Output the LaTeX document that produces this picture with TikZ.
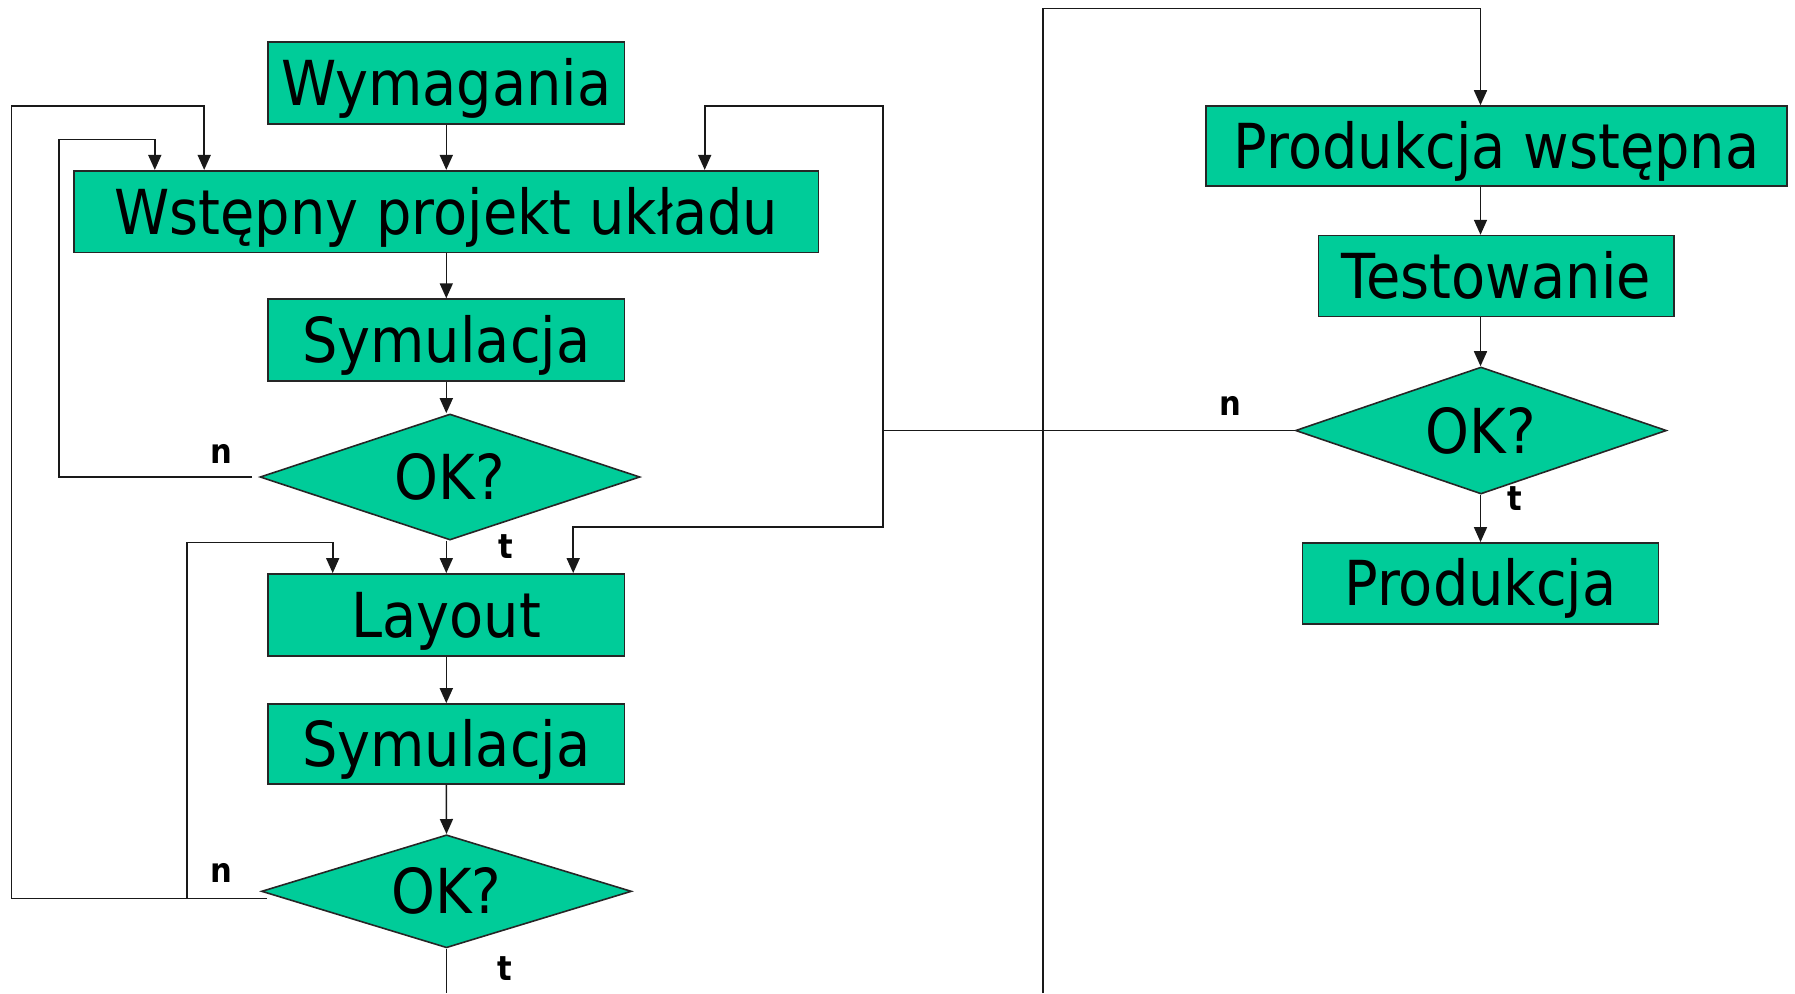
\documentclass[tikz,border=0pt]{standalone}
\usepackage{fontspec}
\setmainfont{DejaVu Sans}[FakeStretch=0.9]
\usetikzlibrary{shapes.geometric,arrows.meta,calc}
\definecolor{boxgreen}{RGB}{0,204,153}
\begin{document}
\begin{tikzpicture}[x=0.5pt,y=-0.5pt,
  wire/.style={draw=black!90, line width=0.8pt},
  stepbox/.style={rectangle, draw=black!85, fill=boxgreen, line width=0.8pt, inner sep=0pt,
    font=\fontsize{31}{37}\selectfont, text height=22.6pt, text depth=0pt},
  decision/.style={diamond, shape aspect=3, draw=black!85, fill=boxgreen, line width=0.8pt, inner sep=0pt,
    font=\fontsize{31}{37}\selectfont, text height=22.6pt, text depth=0pt},
  lbl/.style={inner sep=0pt, font=\fontsize{17}{20}\selectfont\bfseries},
  arr/.style={wire, -{Triangle[width=6.5pt,length=7.5pt]}}
]
\useasboundingbox (0,0) rectangle (1795,993);

% left column
\node[stepbox, minimum width=178.3pt, minimum height=40.9pt] (wym) at (446.3,83) {Wymagania};
\node[stepbox, minimum width=372.3pt, minimum height=40.9pt] (wst) at (446.3,211.6) {Wstępny projekt układu};
\node[stepbox, minimum width=178.3pt, minimum height=40.9pt] (s1) at (446.3,340) {Symulacja};
\node[decision, minimum width=190pt, minimum height=63pt] (d1) at (450,477) {OK?};
\node[stepbox, minimum width=178.3pt, minimum height=40.9pt] (lay) at (446.3,614.8) {Layout};
\node[stepbox, minimum width=178.3pt, minimum height=40pt] (s2) at (446.3,744) {Symulacja};
\node[decision, minimum width=185pt, minimum height=56.5pt] (d2) at (446.5,891.3) {OK?};

% right column
\node[stepbox, minimum width=290.5pt, minimum height=40pt] (pw) at (1496.5,146) {Produkcja wstępna};
\node[stepbox, minimum width=177.8pt, minimum height=40.4pt] (te) at (1496.3,276) {Testowanie};
\node[decision, minimum width=185.5pt, minimum height=63.5pt] (d3) at (1481,430.5) {OK?};
\node[stepbox, minimum width=178pt, minimum height=40.4pt] (pr) at (1480.5,583.3) {Produkcja};

% labels
\node[lbl] (ln1) at (221,454) {n};
\node[lbl] (lt1) at (506,546.7) {t};
\node[lbl] (ln2) at (221,873.3) {n};
\node[lbl] (lt2) at (505,968.3) {t};
\node[lbl] (ln3) at (1230,406) {n};
\node[lbl] (lt3) at (1515,498.7) {t};

% helper coordinates
\coordinate (ax) at (1480.5,0);
\coordinate (ina) at (59,139.3);
\coordinate (oa) at (11.5,106);
\coordinate (la) at (187,542.3);
\coordinate (rx) at (883,0);
\coordinate (rt) at (883,106);
\coordinate (rb) at (883,526.7);
\coordinate (n2) at ($(d2.west)+(6.5,7)$);
\coordinate (bot1) at (446.5,993);
\coordinate (bb) at (1043,993);
\coordinate (bt) at (1043,8.4);

% main flow
\draw[arr] (wym.south) -- (wst.north);
\draw[arr] (wst.south) -- (s1.north);
\draw[arr] (s1.south) -- (s1.south |- d1.north);
\draw[arr] (lay.north |- d1.south) -- (lay.north);
\draw[arr] (lay.south) -- (s2.north);
\draw[arr] (s2.south) -- (d2.north);
\draw[wire] (d2.south) -- (bot1);

% loops left
\draw[arr, shorten <=3.5pt] (d1.west) -| (ina) -| ($(wst.north west)+(81.6,0)$);
\draw[arr] (n2) -| (oa) -| ($(wst.north west)+(131,0)$);
\draw[arr] (n2 -| la) -- (la) -| ($(lay.north west)+(65.5,0)$);

% loop from right decision
\coordinate (rm) at (d3.west -| rx);
\draw[wire] (d3.west) -- (rm);
\draw[arr] (rm) -- (rt) -| ($(wst.north west)+(631.5,0)$);
\draw[arr] (rm) -- (rb) -| ($(lay.north west)+(306,0)$);

% right column flow
\draw[arr] (bb) -- (bt) -| (ax |- pw.north);
\draw[arr] (ax |- pw.south) -- (ax |- te.north);
\draw[arr] (ax |- te.south) -- (ax |- d3.north);
\draw[arr] (ax |- d3.south) -- (ax |- pr.north);
\end{tikzpicture}
\end{document}
